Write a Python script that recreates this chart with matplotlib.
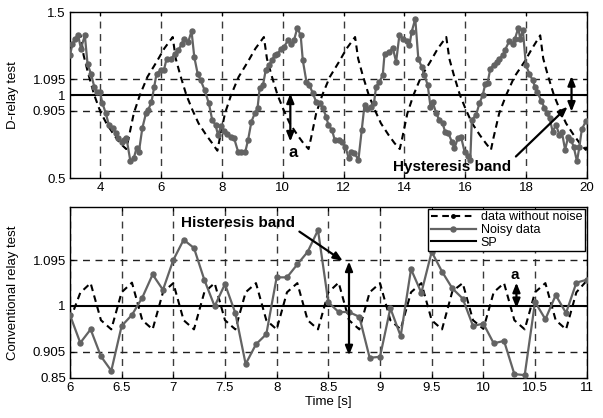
import matplotlib
matplotlib.use("Agg")
import matplotlib.pyplot as plt
from matplotlib.lines import Line2D

plt.rcParams['font.family'] = ['Liberation Sans', 'DejaVu Sans']

# ---------------- top panel data (D-relay test) ----------------
top_clean_t = [3.0, 3.15, 3.35, 3.45, 3.6, 3.8, 4.0, 4.2, 4.45, 4.65, 4.85,
               4.93, 5.1, 5.3, 5.55, 5.85, 6.1, 6.38,
               6.48, 6.63, 6.83, 7.03, 7.23, 7.48, 7.68, 7.85,
               7.93, 8.1, 8.3, 8.55, 8.85, 9.1, 9.38,
               9.48, 9.63, 9.83, 10.03, 10.23, 10.48, 10.68, 10.85,
               10.93, 11.1, 11.3, 11.55, 11.85, 12.1, 12.38,
               12.48, 12.63, 12.83, 13.03, 13.23, 13.48, 13.68, 13.85,
               13.93, 14.1, 14.3, 14.55, 14.85, 15.1, 15.38,
               15.48, 15.63, 15.83, 16.03, 16.23, 16.48, 16.68, 16.85,
               16.93, 17.12, 17.35, 17.62, 17.95, 18.2, 18.47,
               18.57, 18.72, 18.92, 19.12, 19.32, 19.57, 19.77, 19.97, 20.0]
top_clean_y = [1.29, 1.32, 1.36, 1.24, 1.13, 1.0, 0.90, 0.83, 0.76, 0.71, 0.675,
               0.74, 0.89, 1.0, 1.11, 1.2, 1.28, 1.35,
               1.22, 1.12, 1.0, 0.91, 0.83, 0.76, 0.71, 0.665,
               0.74, 0.89, 1.0, 1.11, 1.2, 1.28, 1.35,
               1.22, 1.12, 1.0, 0.91, 0.83, 0.76, 0.71, 0.675,
               0.74, 0.89, 1.0, 1.11, 1.2, 1.28, 1.35,
               1.22, 1.12, 1.0, 0.91, 0.83, 0.76, 0.71, 0.675,
               0.74, 0.89, 1.0, 1.11, 1.2, 1.28, 1.35,
               1.22, 1.12, 1.0, 0.91, 0.83, 0.76, 0.71, 0.67,
               0.74, 0.89, 1.0, 1.11, 1.2, 1.28, 1.36,
               1.22, 1.12, 1.0, 0.91, 0.83, 0.76, 0.71, 0.67, 0.70]

top_noisy_t = [3.0, 3.08, 3.16, 3.27, 3.36, 3.49, 3.58, 3.69, 3.8, 3.88, 3.99,
               4.07, 4.18, 4.28, 4.42, 4.5, 4.59, 4.7, 4.78, 4.86, 4.99, 5.1,
               5.19, 5.27, 5.38, 5.5, 5.57, 5.68, 5.77, 5.85, 5.99, 6.09, 6.18,
               6.34, 6.45, 6.56, 6.67, 6.75, 6.89, 7.0, 7.09, 7.2, 7.3, 7.43,
               7.57, 7.68, 7.79, 7.87, 7.98, 8.07, 8.17, 8.29, 8.4, 8.53, 8.64,
               8.77, 8.86, 8.97, 9.08, 9.17, 9.24, 9.35, 9.44, 9.54, 9.65, 9.73,
               9.82, 9.95, 10.04, 10.17, 10.28, 10.37, 10.48, 10.59, 10.66, 10.78,
               10.88, 10.99, 11.1, 11.21, 11.32, 11.43, 11.5, 11.62, 11.71, 11.84,
               11.95, 12.06, 12.17, 12.26, 12.36, 12.49, 12.6, 12.69, 12.78, 12.89,
               13.0, 13.07, 13.18, 13.29, 13.35, 13.51, 13.62, 13.73, 13.84, 13.95,
               14.09, 14.17, 14.24, 14.36, 14.46, 14.57, 14.66, 14.77, 14.86, 14.93,
               15.05, 15.15, 15.26, 15.34, 15.45, 15.56, 15.65, 15.76, 15.87, 15.98,
               16.09, 16.17, 16.22, 16.36, 16.47, 16.58, 16.66, 16.74, 16.83, 16.94,
               17.05, 17.13, 17.24, 17.31, 17.45, 17.56, 17.64, 17.75, 17.81, 17.9,
               18.0, 18.11, 18.22, 18.3, 18.38, 18.51, 18.61, 18.69, 18.78, 18.88,
               18.99, 19.1, 19.18, 19.29, 19.39, 19.48, 19.57, 19.68, 19.76, 19.84,
               19.98]
top_noisy_y = [1.24, 1.305, 1.34, 1.36, 1.28, 1.36, 1.185, 1.13, 1.05, 1.016, 1.016,
               0.95, 0.89, 0.82, 0.80, 0.77, 0.74, 0.72, 0.73, 0.74, 0.60, 0.62,
               0.68, 0.66, 0.80, 0.89, 0.91, 0.956, 1.05, 1.13, 1.15, 1.15, 1.22,
               1.22, 1.25, 1.27, 1.305, 1.34, 1.32, 1.385, 1.23, 1.13, 1.09, 1.03,
               0.95, 0.85, 0.82, 0.76, 0.815, 0.785, 0.763, 0.75, 0.74, 0.66, 0.66,
               0.66, 0.73, 0.84, 0.89, 0.92, 1.04, 1.06, 1.15, 1.18, 1.21, 1.24,
               1.245, 1.28, 1.29, 1.33, 1.31, 1.33, 1.405, 1.36, 1.21, 1.08,
               1.06, 1.01, 0.96, 0.95, 0.92, 0.87, 0.82, 0.79, 0.73, 0.73,
               0.72, 0.69, 0.62, 0.66, 0.65, 0.61, 0.79, 0.94, 0.915, 0.93,
               0.95, 1.05, 1.08, 1.12, 1.25, 1.26, 1.285, 1.20, 1.365, 1.34,
               1.325, 1.30, 1.38, 1.46, 1.22, 1.17, 1.12, 1.06, 0.93, 0.96,
               0.89, 0.85, 0.83, 0.78, 0.77, 0.72, 0.68, 0.74, 0.745, 0.66,
               0.63, 0.61, 0.85, 0.88, 0.95, 1.0, 1.065, 1.075, 1.16, 1.18,
               1.20, 1.22, 1.24, 1.27, 1.325, 1.31, 1.34, 1.405, 1.34, 1.39,
               1.18, 1.13, 1.09, 1.05, 1.016, 0.964, 0.924, 0.89, 0.86, 0.78,
               0.82, 0.76, 0.78, 0.67, 0.75, 0.73, 0.69, 0.60, 0.69, 0.795,
               0.845]

# ---------------- bottom panel data (conventional relay test) ----------------
bot_t = [6.0, 6.1, 6.2, 6.3, 6.4, 6.5, 6.6, 6.7, 6.8, 6.9,
         7.0, 7.1, 7.2, 7.3, 7.4, 7.5, 7.6, 7.7, 7.8, 7.9,
         8.0, 8.1, 8.2, 8.3, 8.4, 8.5, 8.6, 8.7, 8.8, 8.9,
         9.0, 9.1, 9.2, 9.3, 9.4, 9.5, 9.6, 9.7, 9.8, 9.9,
         10.0, 10.1, 10.2, 10.3, 10.4, 10.5, 10.6, 10.7, 10.8, 10.9, 11.0]
bot_clean_y = [0.97, 1.027, 1.047, 0.97, 0.951, 1.028, 1.048, 0.97, 0.951, 1.028,
               1.047, 0.97, 0.951, 1.028, 1.047, 0.97, 0.951, 1.028, 1.047, 0.97,
               0.951, 1.028, 1.047, 0.97, 0.951, 1.028, 1.048, 0.97, 0.951, 1.028,
               1.047, 0.97, 0.951, 1.028, 1.047, 0.97, 0.951, 1.030, 1.047, 0.97,
               0.952, 1.028, 1.047, 0.97, 0.951, 1.028, 1.047, 0.97, 0.951, 1.028, 1.052]
bot_noisy_y = [0.981, 0.923, 0.951, 0.895, 0.865, 0.958, 0.981, 1.017, 1.065, 1.033,
               1.095, 1.137, 1.12, 1.054, 0.999, 1.045, 0.985, 0.879, 0.92, 0.941,
               1.059, 1.059, 1.086, 1.112, 1.157, 1.007, 0.987, 0.987, 0.977, 0.892,
               0.894, 0.995, 0.937, 1.076, 1.027, 1.112, 1.071, 1.036, 1.015, 0.958,
               0.963, 0.922, 0.927, 0.858, 0.856, 1.008, 0.972, 1.022, 0.985, 1.048, 1.054]

setpoint = 1.0
band_hi, band_lo = 1.095, 0.905

top_xticks = [4, 6, 8, 10, 12, 14, 16, 18, 20]
top_yticks = [0.5, 0.905, 1, 1.095, 1.5]
top_ylabels = ['0.5', '0.905', '1', '1.095', '1.5']
bot_xticks = [6, 6.5, 7, 7.5, 8, 8.5, 9, 9.5, 10, 10.5, 11]
bot_xlabels = ['6', '6.5', '7', '7.5', '8', '8.5', '9', '9.5', '10', '10.5', '11']
bot_yticks = [0.85, 0.905, 1, 1.095]
bot_ylabels = ['0.85', '0.905', '1', '1.095']

NOISY = '#636363'
DASH = (0, (3.2, 2.2))
GRID_DASH = (0, (5, 4))

fig = plt.figure(figsize=(6.03, 4.18), dpi=100)
ax1 = fig.add_axes([0.116, 0.574, 0.857, 0.397])
ax2 = fig.add_axes([0.116, 0.0957, 0.857, 0.409])


def style(ax, xticks, yticks, ylabels, xlabels=None):
    ax.set_xticks(xticks)
    if xlabels is not None:
        ax.set_xticklabels(xlabels)
    ax.set_yticks(yticks)
    ax.set_yticklabels(ylabels)
    ax.tick_params(direction='in', length=3, width=0.8, labelsize=9.5,
                   top=True, right=True, pad=3)
    for s in ax.spines.values():
        s.set_linewidth(1.0)
    for x in xticks:
        ax.axvline(x, color='#3a3a3a', lw=1.0, ls=GRID_DASH, zorder=1)
    for y in (band_hi, band_lo):
        ax.axhline(y, color='#202020', lw=1.0, ls=GRID_DASH, zorder=1)


# ---- top panel ----
ax1.plot(top_clean_t, top_clean_y, color='black', lw=1.5, ls=DASH, zorder=3)
ax1.plot(top_noisy_t, top_noisy_y, color=NOISY, lw=1.6, marker='o', ms=3.6,
         zorder=4)
ax1.axhline(setpoint, color='black', lw=1.5, zorder=2)
ax1.set_xlim(3, 20)
ax1.set_ylim(0.5, 1.5)
style(ax1, top_xticks, top_yticks, top_ylabels)
ax1.set_ylabel('D-relay test', fontsize=9.5)
ax1.yaxis.set_label_coords(-0.098, 0.5)

arrow2 = dict(arrowstyle='<|-|>,head_length=0.55,head_width=0.22', color='black',
              lw=1.6, shrinkA=0, shrinkB=0)
ax1.annotate('', xy=(10.25, 0.72), xytext=(10.25, 1.01), arrowprops=arrow2, zorder=6)
ax1.text(10.35, 0.655, 'a', fontsize=12, fontweight='bold', ha='center', va='center')
ax1.annotate('', xy=(19.5, 0.90), xytext=(19.5, 1.115), arrowprops=arrow2, zorder=6)
ax1.annotate('', xy=(19.37, 0.93), xytext=(17.67, 0.63),
             arrowprops=dict(arrowstyle='-|>,head_length=0.55,head_width=0.22',
                             color='black', lw=1.6, shrinkA=0, shrinkB=0), zorder=6)
ax1.text(15.57, 0.565, 'Hysteresis band', fontsize=11, fontweight='bold',
         ha='center', va='center', zorder=7)

# ---- bottom panel ----
ax2.plot(bot_t, bot_clean_y, color='black', lw=1.5, ls=DASH, zorder=3)
ax2.plot(bot_t, bot_noisy_y, color=NOISY, lw=1.6, marker='o', ms=3.6, zorder=4)
ax2.axhline(setpoint, color='black', lw=1.5, zorder=2)
ax2.set_xlim(6, 11)
ax2.set_ylim(0.85, 1.205)
style(ax2, bot_xticks, bot_yticks, bot_ylabels, bot_xlabels)
ax2.set_ylabel('Conventional relay test', fontsize=9.5)
ax2.yaxis.set_label_coords(-0.098, 0.5)
ax2.set_xlabel('Time [s]', fontsize=9.5, labelpad=1)

ax2.text(7.63, 1.172, 'Histeresis band', fontsize=11, fontweight='bold',
         ha='center', va='center', zorder=7)
ax2.annotate('', xy=(8.64, 1.093), xytext=(8.22, 1.154),
             arrowprops=dict(arrowstyle='-|>,head_length=0.55,head_width=0.22',
                             color='black', lw=1.6, shrinkA=0, shrinkB=0), zorder=6)
ax2.annotate('', xy=(8.70, 0.897), xytext=(8.70, 1.092), arrowprops=arrow2, zorder=6)
ax2.annotate('', xy=(10.32, 0.995), xytext=(10.32, 1.048), arrowprops=arrow2, zorder=6)
ax2.text(10.3, 1.064, 'a', fontsize=11, fontweight='bold', ha='center', va='center')

handles = [Line2D([], [], color='black', lw=1.5, ls=DASH, marker='.', ms=5),
           Line2D([], [], color=NOISY, lw=1.6, marker='o', ms=3.6),
           Line2D([], [], color='black', lw=1.5)]
leg = ax2.legend(handles, ['data without noise', 'Noisy data', 'SP'],
                 loc='upper right', fontsize=9, frameon=True, fancybox=False,
                 framealpha=1, edgecolor='black', borderpad=0.2, labelspacing=0.05,
                 handlelength=3.6, handletextpad=0.4, borderaxespad=0.15,
                 numpoints=1)
leg.get_frame().set_linewidth(1.0)
leg.set_zorder(10)

fig.savefig('out.png', dpi=100)
